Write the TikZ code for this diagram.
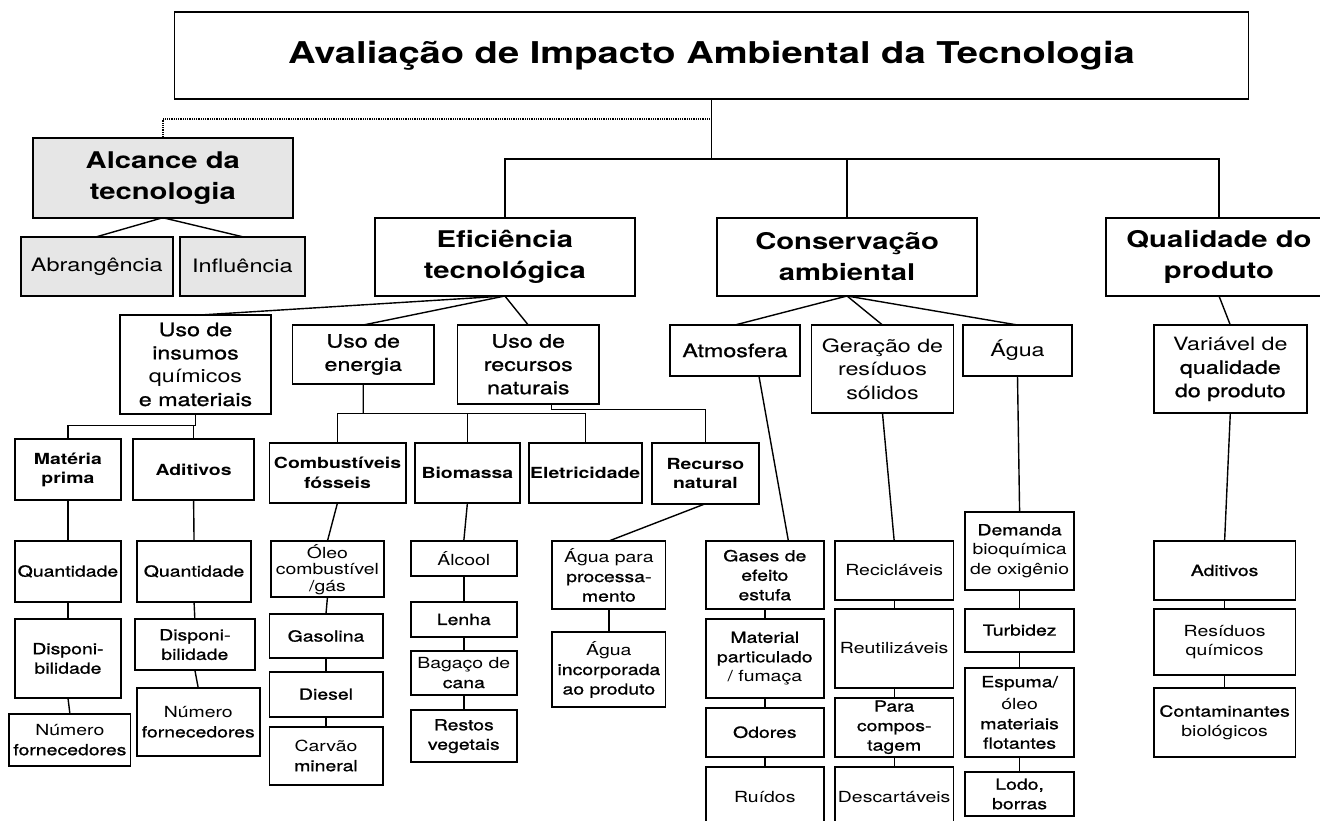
\documentclass[tikz,border=0pt]{standalone}
\usepackage{fontspec}
\setmainfont[FakeStretch=1.27]{TeX Gyre Heros}
\newfontfamily\medio[FakeStretch=1.27,FakeBold=1]{TeX Gyre Heros}
\newcommand{\medi}[1]{{\medio #1}}
\usetikzlibrary{calc}
\definecolor{cinza}{RGB}{230,230,230}

\begin{document}
\begin{tikzpicture}[x=1pt, y=-1pt,
		caixa/.style={draw, line width=1.8pt, inner sep=0pt, outer sep=0pt, align=center, anchor=north west},
		sombra/.style={caixa, fill=cinza},
		n0/.style={font=\fontsize{30}{36}\selectfont\bfseries},
		n1/.style={font=\fontsize{23}{31}\selectfont\bfseries},
		n2/.style={font=\fontsize{18.3}{23.3}\selectfont},
		n3/.style={font=\fontsize{15.3}{19.5}\selectfont},
		n3b/.style={font=\fontsize{15.3}{19.5}\selectfont\bfseries},
		liga/.style={line width=1.4pt},
		pontos/.style={line width=2pt, dash pattern=on 1pt off 0.8pt}]
			\useasboundingbox (0,0) rectangle (1320,820);
			% Topo
			\node[caixa, n0, minimum width=1074, minimum height=87.6] (titulo) at (174.5,11.7) {Avaliação de Impacto Ambiental da Tecnologia};
			% Primeiro nivel
			\node[sombra, n1, minimum width=260, minimum height=79.4] (alcance) at (32.8,138.3) {Alcance da\\tecnologia};
			\node[caixa, n1, minimum width=259.7, minimum height=78.3] (efic) at (375,217.7) {Eficiência\\tecnológica};
			\node[caixa, n1, minimum width=259.7, minimum height=78.3] (conserv) at (717.2,217.7) {Conservação\\ambiental};
			\node[caixa, n1, minimum width=226, minimum height=78.3] (qualid) at (1106,217.7) {Qualidade do\\produto};
			\node[sombra, font=\fontsize{18.5}{22}\selectfont, minimum width=151.6, minimum height=59.3] (abrang) at (21,236.7) {Abrangência};
			\node[sombra, font=\fontsize{18.5}{22}\selectfont, minimum width=124.7, minimum height=59.3] (influ) at (180,236.7) {Influência};
			% Segundo nivel
			\node[caixa, n2, minimum width=151, minimum height=98.4] (insumos) at (120,315.3) {\medi{Uso de}\\\medi{insumos}\\químicos\\\medi{e materiais}};
			\node[caixa, n2, minimum width=141.5, minimum height=59] (energia) at (292.5,325) {\medi{Uso de}\\\medi{energia}};
			\node[caixa, n2, minimum width=141.5, minimum height=78.7] (recursos) at (457.5,325) {\medi{Uso de}\\\medi{recursos}\\\medi{naturais}};
			\node[caixa, n2, minimum width=130.5, minimum height=51] (atmos) at (669.7,325) {\medi{Atmosfera}};
			\node[caixa, n2, minimum width=142, minimum height=88.3] (geracao) at (811.5,325) {Geração de\\resíduos\\sólidos};
			\node[caixa, n2, minimum width=109, minimum height=51] (agua) at (963,325) {Água};
			\node[caixa, n2, minimum width=153.2, minimum height=88.3] (variavel) at (1153.7,325) {Variável de\\\medi{qualidade}\\\medi{do produto}};
			% Insumos
			\node[caixa, n3b, minimum width=106.5, minimum height=61] (materia) at (14.7,439.3) {Matéria\\prima};
			\node[caixa, n3b, minimum width=121.2, minimum height=61] (aditivos) at (133,439.3) {Aditivos};
			\node[caixa, n3, minimum width=106.5, minimum height=60.7] (quant1) at (14.7,541) {\medi{Quantidade}};
			\node[caixa, n3, minimum width=114.5, minimum height=60.7] (quant2) at (136.8,541) {\medi{Quantidade}};
			\node[caixa, n3, minimum width=106.5, minimum height=78.4] (disp1) at (14.7,619.3) {\medi{Disponi-}\\\medi{bilidade}};
			\node[caixa, n3, minimum width=119.5, minimum height=50.7] (disp2) at (135.1,619.3) {\medi{Disponi-}\\\medi{bilidade}};
			\node[caixa, n3, minimum width=121.2, minimum height=52.6] (num1) at (9.3,713.7) {Número\\\medi{fornecedores}};
			\node[caixa, n3, minimum width=122.9, minimum height=68.3] (num2) at (136.8,688) {Número\\\medi{fornecedores}};
			% Energia
			\node[caixa, n3b, minimum width=136.3, minimum height=60] (combust) at (269.4,442.7) {Combustíveis\\fósseis};
			\node[caixa, n3b, minimum width=105.6, minimum height=60.3] (biomassa) at (414.6,442.7) {Biomassa};
			\node[caixa, n3b, minimum width=113.2, minimum height=60.3] (eletric) at (528.6,442.7) {Eletricidade};
			\node[caixa, n3b, minimum width=106.9, minimum height=60.7] (recnat) at (652,443) {Recurso\\natural};
			\node[caixa, font=\fontsize{15.3}{16.5}\selectfont, minimum width=113.7, minimum height=56.3] (oleo) at (270.6,541) {Óleo\\combustível\\/gás};
			\node[caixa, n3, minimum width=113.2, minimum height=44.6] (gasolina) at (269.4,613.7) {\medi{Gasolina}};
			\node[caixa, n3, minimum width=113.2, minimum height=45] (diesel) at (269.4,671.7) {\medi{Diesel}};
			\node[caixa, n3, minimum width=113.2, minimum height=58.3] (carvao) at (269.4,726.7) {Carvão\\\medi{mineral}};
			\node[caixa, n3, minimum width=106, minimum height=34.7] (alcool) at (410.8,541) {Álcool};
			\node[caixa, n3, minimum width=106, minimum height=35] (lenha) at (410.8,602) {\medi{Lenha}};
			\node[caixa, n3, minimum width=106, minimum height=43.7] (bagaco) at (410.8,651) {Bagaço de\\\medi{cana}};
			\node[caixa, n3, minimum width=106, minimum height=52.3] (restos) at (410.8,710) {\medi{Restos}\\\medi{vegetais}};
			\node[caixa, n3, minimum width=113.3, minimum height=68.3] (aguapara) at (552.2,541) {Água para\\\medi{processa-}\\\medi{mento}};
			\node[caixa, n3, minimum width=113.3, minimum height=74.7] (aguainc) at (552.2,632.3) {Água\\\medi{incorporada}\\\medi{ao produto}};
			% Conservacao
			\node[caixa, n3, minimum width=117.8, minimum height=68.3] (gases) at (705.9,541) {\medi{Gases de}\\\medi{efeito}\\\medi{estufa}};
			\node[caixa, n3, minimum width=117.8, minimum height=78.4] (material) at (705.9,619.3) {\medi{Material}\\\medi{particulado}\\/ fumaça};
			\node[caixa, n3, minimum width=117.8, minimum height=49] (odores) at (705.9,707.7) {\medi{Odores}};
			\node[caixa, n3, minimum width=117.8, minimum height=60] (ruidos) at (705.9,766.7) {Ruídos};
			\node[caixa, n3, minimum width=118.4, minimum height=59] (recic) at (835,541) {Recicláveis};
			\node[caixa, n3, minimum width=118.4, minimum height=78.4] (reutil) at (835,609.3) {Reutilizáveis};
			\node[caixa, n3, minimum width=118.4, minimum height=59] (para) at (835,697.7) {\medi{Para}\\\medi{compos-}\\\medi{tagem}};
			\node[caixa, n3, minimum width=118.4, minimum height=60] (descart) at (835,766.7) {Descartáveis};
			\node[caixa, n3, minimum width=109, minimum height=78.3] (demanda) at (965.1,511.7) {\medi{Demanda}\\bioquímica\\de oxigênio};
			\node[caixa, n3, minimum width=109, minimum height=43] (turbidez) at (965.1,608.7) {\medi{Turbidez}};
			\node[caixa, n3, minimum width=109, minimum height=88.4] (espuma) at (965.1,668.3) {\medi{Espuma/}\\[3pt]óleo\\\medi{materiais}\\\medi{flotantes}};
			\node[caixa, n3, minimum width=109, minimum height=44] (lodo) at (965.1,772) {\medi{Lodo,}\\\medi{borras}};
			% Qualidade
			\node[caixa, n3, minimum width=141.8, minimum height=59] (aditivos2) at (1153.7,541) {\medi{Aditivos}};
			\node[caixa, n3, minimum width=141.8, minimum height=65.4] (residuos) at (1153.7,609.3) {Resíduos\\químicos};
			\node[caixa, n3, minimum width=141.8, minimum height=68.7] (contam) at (1153.7,688) {\medi{Contaminantes}\\biológicos};
			% Ligacoes do topo
			\coordinate (barra) at (711.5,159);
			\coordinate (pontilhado) at (711.5,119.3);
			\draw[liga, line width=1.8pt] (titulo.south) -- (barra);
			\draw[liga, line width=1.8pt] (efic.north) |- (barra) -| (qualid.north);
			\draw[liga] (conserv.north) -- (conserv.north |- barra);
			\draw[pontos] (pontilhado) -| (alcance.north);
			\draw[liga] (alcance.south) -- (abrang.north);
			\draw[liga] (alcance.south) -- (influ.north);
			\draw[liga] (efic.south) -- (insumos.north);
			\draw[liga] (efic.south) -- (energia.north);
			\draw[liga] (efic.south) -- (recursos.north);
			\draw[liga] (conserv.south) -- (atmos.north);
			\draw[liga] (conserv.south) -- (geracao.north);
			\draw[liga] (conserv.south) -- (agua.north);
			\draw[liga] (qualid.south) -- (variavel.north);
			% Insumos
			\coordinate (ramoinsumos) at (195.5,425.7);
			\draw[liga] (insumos.south) -- (ramoinsumos) -| (materia.north);
			\draw[liga] (ramoinsumos) -| (aditivos.north);
			\draw[liga] (materia.south) -- (quant1.north);
			\draw[liga] (quant1.south) -- (disp1.north);
			\draw[liga] (disp1.south) -- (num1.north);
			\draw[liga] (aditivos.south) -- (quant2.north);
			\draw[liga] (quant2.south) -- (disp2.north);
			\draw[liga] (disp2.south) -- (num2.north);
			% Energia e recursos
			\coordinate (ramoenergia) at (363.2,413.3);
			\coordinate (ramorecursos) at (551.5,409.3);
			\draw[liga] (energia.south) -- (ramoenergia);
			\draw[liga] (combust.north) |- (ramoenergia) -| (eletric.north);
			\draw[liga] (biomassa.north) -- (biomassa.north |- ramoenergia);
			\draw[liga] (ramorecursos |- recursos.south) -- (ramorecursos) -| (recnat.north);
			\draw[liga] (combust.south) -- (oleo.north);
			\draw[liga] (oleo.south) -- (gasolina.north);
			\draw[liga] (gasolina.south) -- (diesel.north);
			\draw[liga] (diesel.south) -- (carvao.north);
			\draw[liga] (biomassa.south) -- (alcool.north);
			\draw[liga] (alcool.south) -- (lenha.north);
			\draw[liga] (lenha.south) -- (bagaco.north);
			\draw[liga] (bagaco.south) -- (restos.north);
			\draw[liga] (recnat.south) -- (aguapara.north);
			\draw[liga] (aguapara.south) -- (aguainc.north);
			% Conservacao
			\draw[liga] ($(atmos.south)+(24,0)$) -- ($(gases.north)+(23.6,0)$);
			\draw[liga] (gases.south) -- (material.north);
			\draw[liga] (material.south) -- (odores.north);
			\draw[liga] (odores.south) -- (ruidos.north);
			\draw[liga] (geracao.south) -- (recic.north);
			\draw[liga] (recic.south) -- (reutil.north);
			\draw[liga] (reutil.south) -- (para.north);
			\draw[liga] (para.south) -- (descart.north);
			\draw[liga] (agua.south) -- (demanda.north);
			\draw[liga] (demanda.south) -- (turbidez.north);
			\draw[liga] (turbidez.south) -- (espuma.north);
			\draw[liga] (espuma.south) -- (lodo.north);
			% Qualidade
			\draw[liga] (variavel.south) -- (aditivos2.north);
			\draw[liga] (aditivos2.south) -- (residuos.north);
			\draw[liga] (residuos.south) -- (contam.north);
\end{tikzpicture}
\end{document}
